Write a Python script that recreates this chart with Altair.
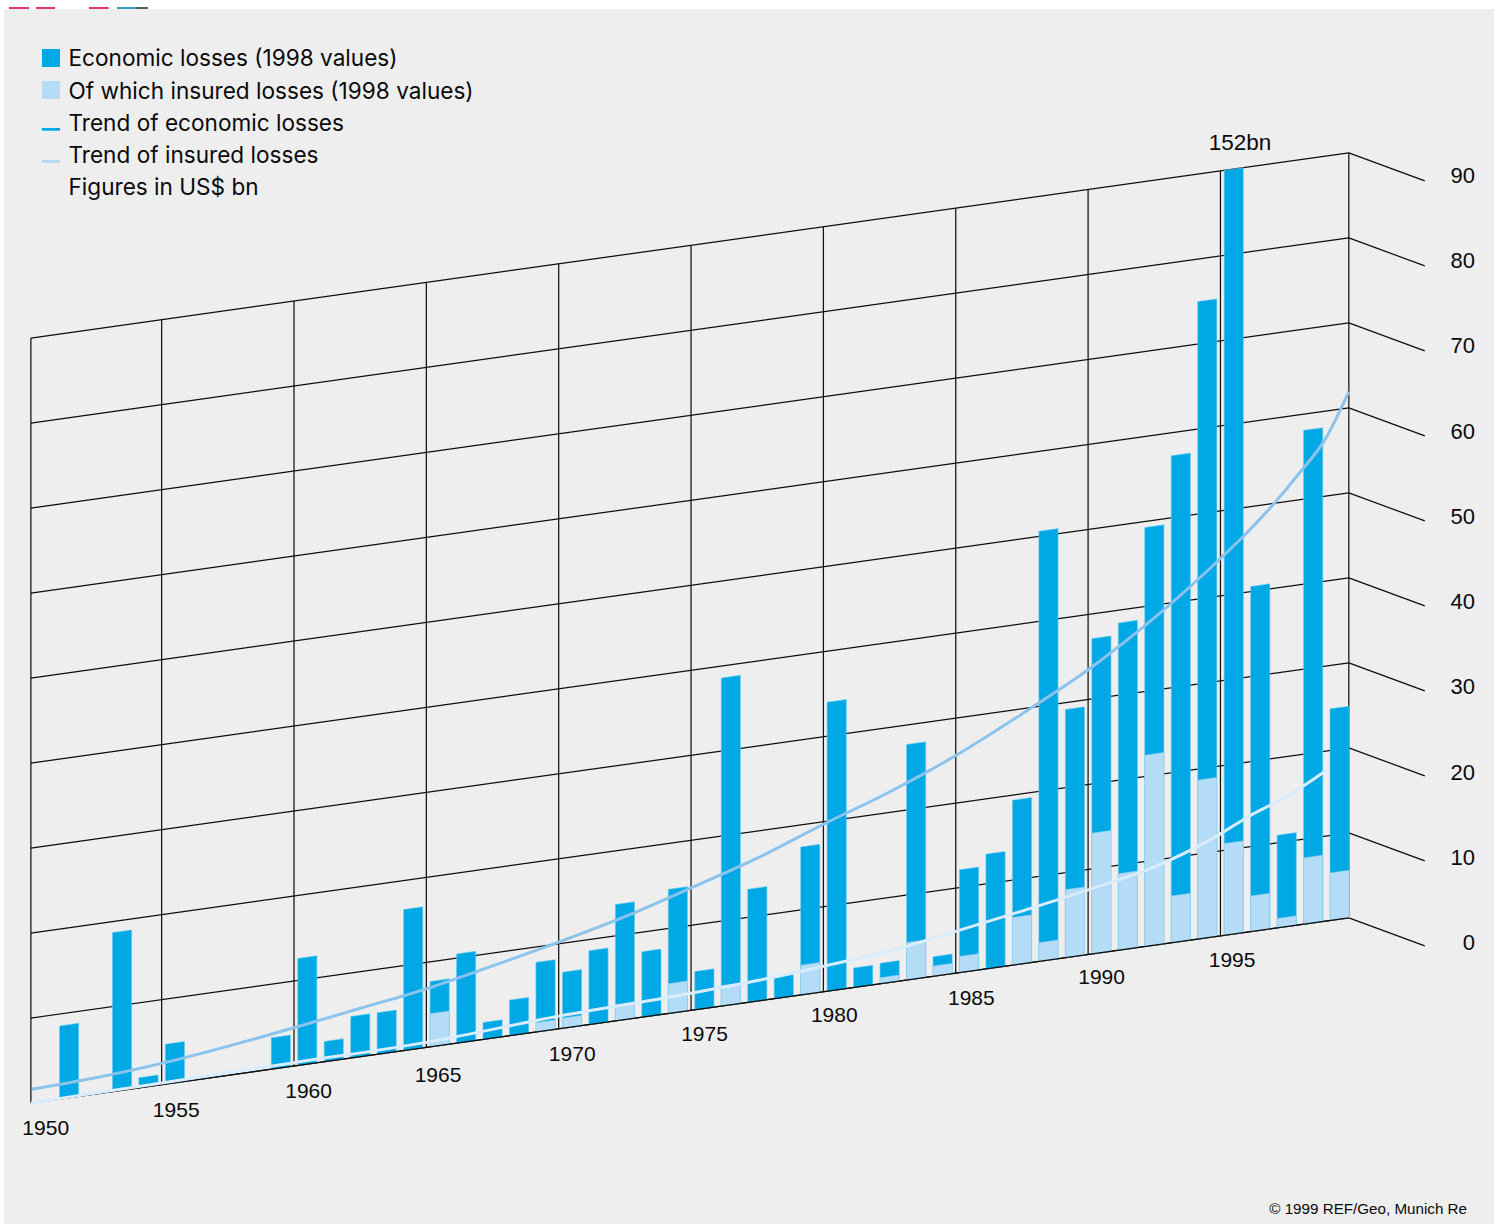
import altair as alt
import pandas as pd

# Annual natural-catastrophe losses, US$ bn in 1998 values
bar_years = [1951, 1953, 1954, 1955, 1959, 1960, 1961, 1962, 1963, 1964, 1965, 1966, 1967, 1968,
             1969, 1970, 1971, 1972, 1973, 1974, 1975, 1976, 1977, 1978, 1979, 1980, 1981, 1982,
             1983, 1984, 1985, 1986, 1987, 1988, 1989, 1990, 1991, 1992, 1993, 1994, 1995, 1996,
             1997, 1998, 1999]
economic = [8.6, 18.7, 1.2, 4.7, 3.7, 12.6, 2.4, 4.9, 4.9, 16.6, 7.7, 10.5, 2.0, 4.2,
            8.2, 6.6, 8.7, 13.7, 7.7, 14.6, 4.5, 38.6, 13.3, 2.5, 17.4, 34.0, 2.3, 2.4,
            27.7, 2.3, 12.1, 13.5, 19.4, 50.6, 29.2, 37.1, 38.5, 49.3, 57.3, 75.0, 152, 40.6,
            10.9, 58.1, 24.9]
insured = [0, 0, 0, 0, 0, 0, 0, 0, 0, 0, 3.9, 0, 0, 0,
           1.1, 1.2, 0, 1.9, 0, 3.5, 0, 2.4, 0, 0, 3.5, 0, 0, 0.7,
           4.4, 1.2, 1.9, 0, 5.6, 2.2, 8.0, 14.2, 9.0, 22.5, 5.5, 18.7, 10.8, 4.2,
           1.1, 7.8, 5.6]

trend_econ_years = [1950.1, 1952.5, 1955, 1960, 1962.5, 1965, 1967.5, 1970, 1972.5, 1975, 1977.5, 1980,
                    1982.5, 1985, 1987.5, 1990, 1992.5, 1995, 1996, 1997, 1998, 1999, 1999.85]
trend_econ = [1.6, 1.9, 2.5, 4.5, 5.7, 6.9, 8.5, 10.2, 12.1, 14.4, 16.8, 19.7,
              22.4, 25.6, 29.4, 33.5, 38.5, 44.4, 47.0, 49.9, 53.2, 56.9, 61.9]
trend_ins_years = [1950.06, 1955, 1960, 1965, 1970, 1975, 1977.5, 1980, 1982.5, 1985, 1987.5, 1990,
                   1992.5, 1995, 1996, 1997.5, 1999]
trend_ins = [0.0, 0.2, 0.4, 0.6, 1.5, 2.0, 2.4, 3.0, 3.7, 4.9, 6.2, 7.6,
             9.2, 12.0, 13.5, 15.3, 17.7]

value_ticks = [0, 10, 20, 30, 40, 50, 60, 70, 80, 90]
year_ticks = [1950, 1955, 1960, 1965, 1970, 1975, 1980, 1985, 1990, 1995]
# Hand-placed label offsets, in years along the floor and in value units below it
year_label_shift = [0.62, 0.55, 0.55, 0.44, 0.51, 0.51, 0.41, 0.59, 0.51, 0.44]
year_label_drop = [4.05, 4.05, 4.05, 4.3, 3.95, 3.8, 3.8, 4.05, 3.7, 3.8]
legend_labels = ["Economic losses (1998 values)", "Of which insured losses (1998 values)",
                 "Trend of economic losses", "Trend of insured losses", "Figures in US$ bn"]
peak_label = "152bn"
credit = "© 1999 REF/Geo, Munich Re"

BLUE = "#00a8e6"
PALE = "#b5dcf6"
TREND_E = "#8cc3ec"
TREND_I = "#d8ecfb"
INK = "#0a0a0a"
FONT = "Liberation Sans"
KEY_FONT = "Inter"

# Oblique projection: each year lifts the floor by a fixed number of value units
PX_PER_YEAR = 26.47
PX_PER_UNIT = 8.5
SHEAR = 0.4375
FRAME_START, FRAME_END = 1950.06, 1999.85
VALUE_CAP = 90
BAR_START, BAR_END = 0.14, 0.865


def lifted(year, value):
    return value + SHEAR * (year - 1950)


x_scale = alt.Scale(domain=[1950 - 25.3 / PX_PER_YEAR, 1950 + 1464.7 / PX_PER_YEAR], nice=False, zero=False)
y_scale = alt.Scale(domain=[(1103.24 - 1224) / PX_PER_UNIT, (1103.24 - 9) / PX_PER_UNIT], nice=False, zero=False)
X = alt.X("x:Q", scale=x_scale, axis=None)
Y = alt.Y("y:Q", scale=y_scale, axis=None, stack=None)


def bar_rows(tops):
    rows = []
    for year, top in zip(bar_years, tops):
        shown = min(top, VALUE_CAP)
        if shown <= 0:
            continue
        for edge in (BAR_START, BAR_END):
            at = year + edge
            rows.append({"bar": year, "x": at, "y": lifted(at, shown), "y0": lifted(at, 0)})
    return pd.DataFrame(rows)


def bars(tops, fill, outline):
    return alt.Chart(bar_rows(tops)).mark_area(fill=fill, stroke=outline, strokeWidth=0.6).encode(
        x=X, y=Y, y2="y0:Q", detail="bar:N")


def trend(years, values, colour):
    frame = pd.DataFrame({"x": years, "y": [lifted(a, b) for a, b in zip(years, values)]})
    return alt.Chart(frame).mark_line(color=colour, strokeWidth=3, interpolate="monotone", clip=False).encode(x=X, y=Y)


wall_rows = pd.DataFrame([{"x": FRAME_START, "x2": FRAME_END, "y": lifted(FRAME_START, v), "y2": lifted(FRAME_END, v)}
                          for v in value_ticks])
wall_lines = alt.Chart(wall_rows).mark_rule(color="#0d0d0d", strokeWidth=1.25).encode(x=X, x2="x2:Q", y=Y, y2="y2:Q")

side_rows = pd.DataFrame([{"x": FRAME_END, "x2": FRAME_END + 2.87, "y": lifted(FRAME_END, v), "y2": lifted(FRAME_END, v) - 3.3}
                          for v in value_ticks])
side_lines = alt.Chart(side_rows).mark_rule(color="#0d0d0d", strokeWidth=1.25).encode(x=X, x2="x2:Q", y=Y, y2="y2:Q")

post_years = [FRAME_START] + year_ticks[1:] + [FRAME_END]
post_rows = pd.DataFrame([{"x": a, "y": lifted(a, 0), "y2": lifted(a, VALUE_CAP)} for a in post_years])
posts = alt.Chart(post_rows).mark_rule(color="#111111", strokeWidth=1.25).encode(x=X, y=Y, y2="y2:Q")

floor_rows = wall_rows[wall_rows.index == 0]
floor_line = alt.Chart(floor_rows).mark_rule(color="#0d0d0d", strokeWidth=1.25).encode(x=X, x2="x2:Q", y=Y, y2="y2:Q")

year_rows = pd.DataFrame([{"x": a + s, "y": lifted(a + s, 0) - d, "t": str(a)}
                          for a, s, d in zip(year_ticks, year_label_shift, year_label_drop)])
year_text = alt.Chart(year_rows).mark_text(font=FONT, fontSize=21, color=INK, align="center", baseline="alphabetic").encode(
    x=X, y=Y, text="t:N")

tick_rows = pd.DataFrame([{"x": 2004.62, "y": 18.03 + v * 1.0025, "t": str(v)} for v in value_ticks])
tick_text = alt.Chart(tick_rows).mark_text(font=FONT, fontSize=22, color=INK, align="right", baseline="alphabetic").encode(
    x=X, y=Y, text="t:N")

peak_rows = pd.DataFrame([{"x": 1995.74, "y": lifted(1995.5, VALUE_CAP) + 2.2, "t": peak_label}])
peak_text = alt.Chart(peak_rows).mark_text(font=FONT, fontSize=22.5, color=INK, align="center", baseline="alphabetic").encode(
    x=X, y=Y, text="t:N")

# Key in the top-left corner, positioned in pixels relative to the panel
key_text = alt.Chart(pd.DataFrame({
    "t": legend_labels,
    "py": [56.7, 89.5, 122, 154, 185.7],
})).mark_text(font=KEY_FONT, fontSize=22.6, color=INK, align="left", baseline="alphabetic").encode(
    x=alt.value(64.5), y=alt.Y("py:Q", scale=None), text="t:N")

key_swatches = alt.Chart(pd.DataFrame({
    "top": [40, 72, 119, 151],
    "bottom": [58, 90, 121.7, 154],
    "c": [BLUE, PALE, BLUE, PALE],
})).mark_rect().encode(
    x=alt.value(38), x2=alt.value(56),
    y=alt.Y("top:Q", scale=None), y2="bottom:Q",
    color=alt.Color("c:N", scale=None))

credit_text = alt.Chart(pd.DataFrame({"t": [credit]})).mark_text(
    font=FONT, fontSize=15.2, color=INK, align="right", baseline="alphabetic"
).encode(x=alt.value(1463), y=alt.value(1205), text="t:N")

# Remnants of a heading cut off along the upper edge of the panel
edge_marks = alt.Chart(pd.DataFrame({
    "a": [5, 32, 85, 113, 132],
    "b": [25, 51, 104.7, 132, 144],
    "c": ["#d8005f", "#d8005f", "#d8005f", "#0090b0", "#333333"],
})).mark_rule(strokeWidth=1.6, clip=False).encode(
    x=alt.X("a:Q", scale=None), x2="b:Q", y=alt.value(-1),
    color=alt.Color("c:N", scale=None))

chart = alt.layer(
    wall_lines, side_lines, posts,
    bars(economic, BLUE, "#6fcdf0"),
    bars(insured, PALE, "#8fcdef"),
    floor_line,
    trend(trend_econ_years, trend_econ, TREND_E),
    trend(trend_ins_years, trend_ins, TREND_I),
    year_text, tick_text, peak_text,
    key_swatches, key_text, credit_text, edge_marks,
).properties(
    width=1490, height=1215,
    padding={"left": 4, "top": 9, "right": 2, "bottom": 0},
    autosize=alt.AutoSizeParams(type="none"),
    background="#ffffff",
).configure_view(fill="#eeeeee", stroke=None)

chart.save("out.html", embed_options={"renderer": "svg", "actions": False})
